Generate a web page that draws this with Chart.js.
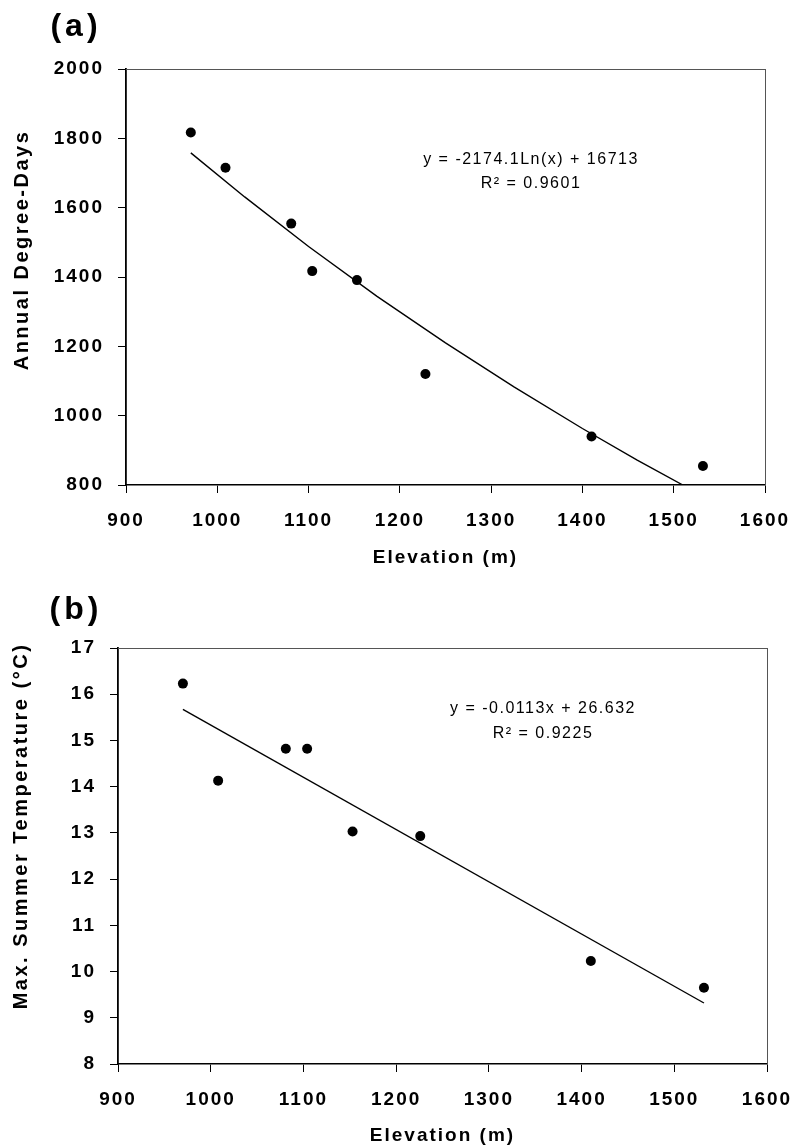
<!DOCTYPE html>
<html>
<head>
<meta charset="utf-8">
<script src="https://cdn.jsdelivr.net/npm/chart.js@4.4.1/dist/chart.umd.min.js"></script>
<style>
  html, body { margin: 0; padding: 0; background: #fff; }
  body { width: 796px; height: 1147px; position: relative; overflow: hidden; }
  .wrap { position: absolute; left: 0; width: 796px; }
  #wa { top: 0; height: 575px; }
  #wb { top: 575px; height: 572px; }
</style>
</head>
<body>
<div class="wrap" id="wa"><canvas id="ca" width="796" height="575"></canvas></div>
<div class="wrap" id="wb"><canvas id="cb" width="796" height="572"></canvas></div>
<script>
// ---------- data ----------
const elevationA = [971, 1009, 1081, 1104, 1153, 1228, 1410, 1532];
const degreeDays = [1817, 1715, 1554, 1417, 1391, 1120, 940, 855];
const trendAx = [971, 1030, 1100, 1175, 1250, 1325, 1400, 1460, 1510];
const trendAy = [1758, 1631, 1488, 1344, 1210, 1083, 963, 872, 800];
const elevationB = [970, 1008, 1081, 1104, 1153, 1226, 1410, 1532];
const maxTemp = [16.23, 14.13, 14.82, 14.82, 13.03, 12.93, 10.23, 9.65];
const trendBx = [970, 1532];
const trendBy = [15.67, 9.32];
const xTicks = [900, 1000, 1100, 1200, 1300, 1400, 1500, 1600];
const yTicksA = [800, 1000, 1200, 1400, 1600, 1800, 2000];
const yTicksB = [8, 9, 10, 11, 12, 13, 14, 15, 16, 17];
const eqA = ['y = -2174.1Ln(x) + 16713', 'R\u00B2 = 0.9601'];
const eqB = ['y = -0.0113x + 26.632', 'R\u00B2 = 0.9225'];
const titleX = 'Elevation (m)';
const titleYA = 'Annual Degree-Days';
const titleYB = 'Max. Summer Temperature (\u00B0C)';

// ---------- styling ----------
Chart.defaults.color = '#000';
Chart.defaults.font.family = "'Liberation Sans', Arial, sans-serif";
const FAM = "'Liberation Sans', Arial, sans-serif";

function pts(xs, ys) { return xs.map((x, i) => ({ x: x, y: ys[i] })); }
function plain(v) { return String(v); }

function makeChart(canvas, cfg) {
  const spacing = {
    id: 'spacing',
    beforeUpdate(c) { c.ctx.letterSpacing = '2px'; },
    beforeLayout(c) { c.ctx.letterSpacing = '2px'; },
    beforeDraw(c) { c.ctx.letterSpacing = '2px'; }
  };
  const notes = {
    id: 'notes',
    afterDraw(c) {
      const ctx = c.ctx;
      ctx.save();
      ctx.fillStyle = '#000';
      ctx.textAlign = 'center';
      ctx.textBaseline = 'alphabetic';
      ctx.letterSpacing = '1.5px';
      ctx.font = '16px ' + FAM;
      ctx.fillText(cfg.eq[0], cfg.eqX, cfg.eqY1);
      ctx.fillText(cfg.eq[1], cfg.eqX, cfg.eqY2);
      ctx.letterSpacing = '4px';
      ctx.font = 'bold 32px ' + FAM;
      ctx.textBaseline = 'middle';
      ctx.fillText(cfg.panel, cfg.panelX, cfg.panelY);
      // vertical axis title
      ctx.letterSpacing = '2.5px';
      ctx.font = 'bold 20px ' + FAM;
      ctx.translate(cfg.yTitleX, cfg.yTitleY);
      ctx.rotate(-Math.PI / 2);
      ctx.fillText(cfg.yTitle, 0, 0);
      ctx.restore();
    }
  };
  return new Chart(canvas, {
    type: 'scatter',
    data: {
      datasets: [
        {
          data: pts(cfg.xs, cfg.ys),
          pointRadius: 5,
          pointHoverRadius: 5,
          pointBackgroundColor: '#000',
          pointBorderWidth: 0,
          showLine: false,
          order: 1
        },
        {
          data: pts(cfg.tx, cfg.ty),
          showLine: true,
          borderColor: '#000',
          borderWidth: 1.4,
          pointRadius: 0,
          fill: false,
          tension: 0,
          order: 2
        }
      ]
    },
    options: {
      responsive: false,
      animation: false,
      events: [],
      layout: { padding: { top: cfg.padTop, right: cfg.padRight, left: 0, bottom: 0 } },
      plugins: { legend: { display: false }, tooltip: { enabled: false } },
      scales: {
        x: {
          type: 'linear',
          position: 'bottom',
          min: xTicks[0],
          max: xTicks[xTicks.length - 1],
          afterBuildTicks(s) { s.ticks = xTicks.map(v => ({ value: v })); },
          ticks: { font: { size: 19, weight: 'bold' }, padding: 16, maxRotation: 0, autoSkip: false, callback: plain },
          grid: { display: true, drawOnChartArea: false, drawTicks: true, tickLength: 8, color: '#000', tickColor: '#000', lineWidth: 1 },
          border: { display: true, color: '#000', width: 1.6 },
          title: { display: true, text: titleX, font: { size: 19, weight: 'bold' }, padding: { top: 0, bottom: cfg.xTitlePad } },
          afterFit(s) { s.height = cfg.xH; s.paddingLeft = 0; s.paddingRight = 0; }
        },
        y: {
          type: 'linear',
          position: 'left',
          min: cfg.yt[0],
          max: cfg.yt[cfg.yt.length - 1],
          afterBuildTicks(s) { s.ticks = cfg.yt.map(v => ({ value: v })); },
          ticks: { font: { size: 19, weight: 'bold' }, padding: 14, autoSkip: false, callback: plain },
          grid: { display: true, drawOnChartArea: false, drawTicks: true, tickLength: 8, color: '#000', tickColor: '#000', lineWidth: 1 },
          border: { display: true, color: '#000', width: 1.8 },
          title: { display: false },
          afterFit(s) { s.width = cfg.yW; s.paddingTop = 0; s.paddingBottom = 0; }
        },
        x2: {
          type: 'linear',
          position: 'top',
          min: xTicks[0],
          max: xTicks[xTicks.length - 1],
          ticks: { display: false },
          grid: { display: false, drawTicks: false },
          border: { display: true, color: '#555', width: 1 },
          afterFit(s) { s.height = 0; s.paddingLeft = 0; s.paddingRight = 0; }
        },
        y2: {
          type: 'linear',
          position: 'right',
          min: cfg.yt[0],
          max: cfg.yt[cfg.yt.length - 1],
          ticks: { display: false },
          grid: { display: false, drawTicks: false },
          border: { display: true, color: '#555', width: 1 },
          afterFit(s) { s.width = 0; s.paddingTop = 0; s.paddingBottom = 0; }
        }
      }
    },
    plugins: [spacing, notes]
  });
}

makeChart(document.getElementById('ca'), {
  xs: elevationA, ys: degreeDays, tx: trendAx, ty: trendAy, yt: yTicksA,
  yTitle: titleYA, yTitleX: 22, yTitleY: 250,
  eq: eqA, eqX: 531, eqY1: 164, eqY2: 188,
  panel: '(a)', panelX: 76, panelY: 27,
  padTop: 69, padRight: 31, yW: 126, xH: 90, xTitlePad: 6
});

makeChart(document.getElementById('cb'), {
  xs: elevationB, ys: maxTemp, tx: trendBx, ty: trendBy, yt: yTicksB,
  yTitle: titleYB, yTitleX: 21, yTitleY: 251,
  eq: eqB, eqX: 543, eqY1: 138, eqY2: 163,
  panel: '(b)', panelX: 76, panelY: 35,
  padTop: 73, padRight: 29, yW: 118, xH: 83, xTitlePad: 0
});
</script>
</body>
</html>
